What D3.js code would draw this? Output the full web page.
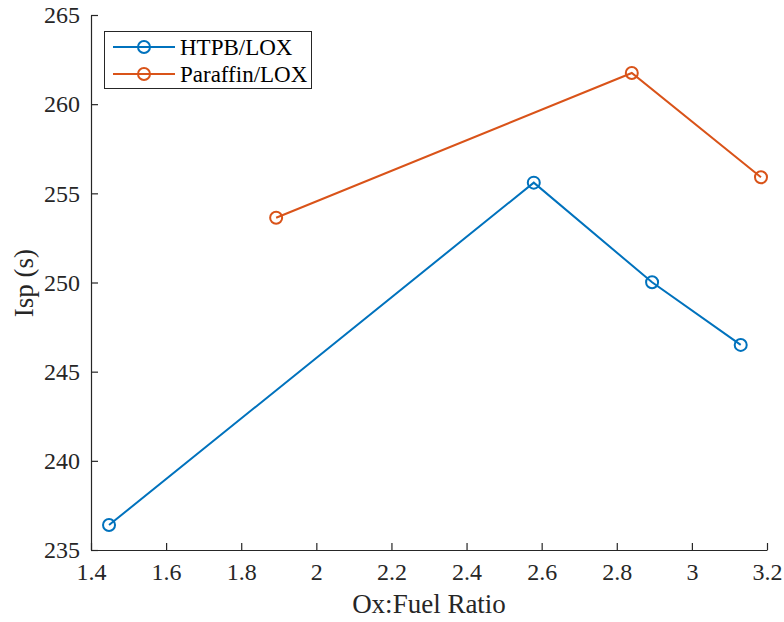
<!DOCTYPE html>
<html><head><meta charset="utf-8">
<script src="https://cdn.jsdelivr.net/npm/d3@7"></script>
<style>body{margin:0;background:#fff}svg{display:block}text{font-family:"Liberation Serif","Times New Roman",serif}</style>
</head><body>
<script>
const htpbX = [1.448, 2.579, 2.894, 3.130];
const htpbY = [236.40, 255.60, 250.01, 246.50];
const paraX = [1.893, 2.840, 3.184];
const paraY = [253.63, 261.75, 255.90];
const xTicks = [1.4, 1.6, 1.8, 2, 2.2, 2.4, 2.6, 2.8, 3, 3.2];
const yTicks = [235, 240, 245, 250, 255, 260, 265];
const seriesNames = ["HTPB/LOX", "Paraffin/LOX"];
const colors = ["#0072BD", "#D95319"];

const W = 784, H = 622;
const FONT = "Liberation Serif, Times New Roman, serif";
const svg = d3.select("body").append("svg").attr("width", W).attr("height", H);
const x = d3.scaleLinear().domain([1.4, 3.2]).range([91, 767]);
const y = d3.scaleLinear().domain([235, 265]).range([550, 15]);
const axisColor = "#262626";

const gx = svg.append("g").attr("transform", "translate(0,550)")
  .call(d3.axisBottom(x).tickValues(xTicks).tickFormat(d3.format("~g")).tickSizeInner(-7).tickSizeOuter(0).tickPadding(13));
const gy = svg.append("g").attr("transform", "translate(91,0)")
  .call(d3.axisLeft(y).tickValues(yTicks).tickFormat(d3.format("d")).tickSizeInner(-7).tickSizeOuter(0).tickPadding(11));
[gx, gy].forEach(g => {
  g.attr("font-family", FONT).attr("font-size", 24);
  g.select(".domain").attr("stroke", axisColor).attr("stroke-width", 1.2);
  g.selectAll(".tick line").attr("stroke", axisColor).attr("stroke-width", 1.2);
  g.selectAll(".tick text").attr("fill", axisColor);
});

const data = [
  htpbX.map((v, i) => [v, htpbY[i]]),
  paraX.map((v, i) => [v, paraY[i]])
];
const line = d3.line().x(d => x(d[0])).y(d => y(d[1]));
data.forEach((pts, k) => {
  svg.append("path").datum(pts).attr("d", line).attr("fill", "none")
    .attr("stroke", colors[k]).attr("stroke-width", 2);
  svg.selectAll(null).data(pts).enter().append("circle")
    .attr("cx", d => x(d[0])).attr("cy", d => y(d[1])).attr("r", 6)
    .attr("fill", "none").attr("stroke", colors[k]).attr("stroke-width", 2);
});

svg.append("text").attr("x", 429).attr("y", 613).attr("text-anchor", "middle")
  .attr("fill", axisColor).attr("font-family", FONT).attr("font-size", 27).text("Ox:Fuel Ratio");
svg.append("text").attr("transform", "translate(33,283) rotate(-90)").attr("text-anchor", "middle")
  .attr("fill", axisColor).attr("font-family", FONT).attr("font-size", 27).text("Isp (s)");

// legend
const lg = svg.append("g");
lg.append("rect").attr("x", 104.5).attr("y", 31.5).attr("width", 207).attr("height", 57)
  .attr("fill", "#fff").attr("stroke", "#262626").attr("stroke-width", 1);
seriesNames.forEach((n, i) => {
  const cy = 47 + i * 27;
  lg.append("line").attr("x1", 113).attr("x2", 175).attr("y1", cy).attr("y2", cy)
    .attr("stroke", colors[i]).attr("stroke-width", 2);
  lg.append("circle").attr("cx", 144).attr("cy", cy).attr("r", 6)
    .attr("fill", "none").attr("stroke", colors[i]).attr("stroke-width", 2);
  lg.append("text").attr("x", 180).attr("y", cy + 8).attr("fill", "#000")
    .attr("font-family", FONT).attr("font-size", 23).text(n);
});
</script>
</body></html>
